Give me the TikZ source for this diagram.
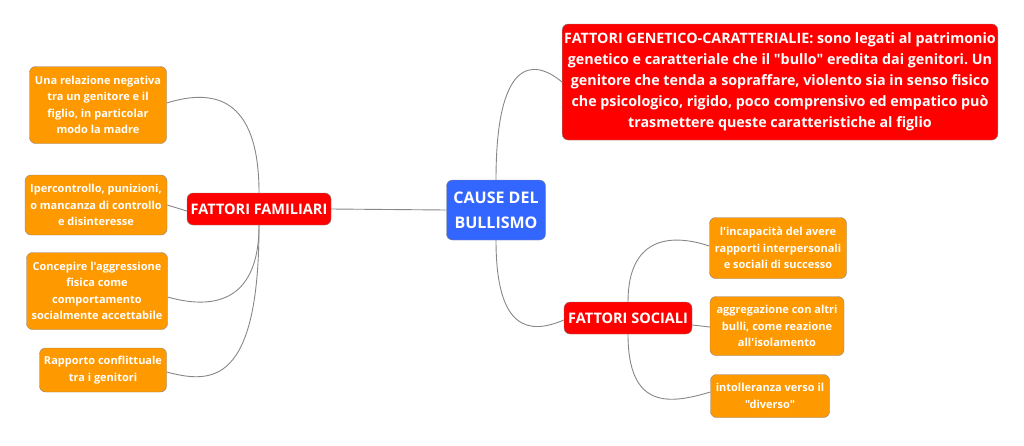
\documentclass[tikz,border=0pt]{standalone}
\usepackage{fontspec}
\setmainfont{Open Sans}[Ligatures=TeXOff]
\usepackage{xcolor}
\definecolor{rootblue}{RGB}{51,102,255}
\definecolor{topicred}{RGB}{255,0,0}
\definecolor{leaforange}{RGB}{255,153,0}
\definecolor{linegray}{RGB}{135,135,135}
\usepackage{tikz}
\usetikzlibrary{positioning}
\frenchspacing

\begin{document}
\begin{tikzpicture}[x=1pt,y=-1pt]
  \tikzstyle{topic}=[rectangle,draw=linegray,rounded corners=6pt,text=white,font=\bfseries,align=center,inner sep=2pt]
  \tikzstyle{rootbox}=[topic,fill=rootblue,minimum width=99pt,minimum height=60pt,font=\bfseries\fontsize{16}{25}\selectfont]
  \tikzstyle{mainbox}=[topic,fill=topicred,minimum height=32pt,font=\bfseries\fontsize{14.5}{16}\selectfont]
  \tikzstyle{leafbox}=[topic,fill=leaforange,font=\bfseries\fontsize{11}{16.5}\selectfont]
  \tikzstyle{link}=[draw=linegray,line width=0.9pt]
  \useasboundingbox (0,0) rectangle (1024,445);

  \node[rootbox] (root) at (496,210) {CAUSE DEL\\BULLISMO};
  \node[mainbox,minimum width=144pt] (fam) at (259,209) {FATTORI FAMILIARI};
  \node[mainbox,minimum width=128pt] (soc) at (628,318) {FATTORI SOCIALI};
  \node[topic,fill=topicred,minimum width=435pt,minimum height=116pt,font=\bfseries\fontsize{14.3}{21}\selectfont] (gen) at (780,82)
    {FATTORI GENETICO-CARATTERIALIE: sono legati al patrimonio\\genetico e caratteriale che il "bullo" eredita dai genitori. Un\\genitore che tenda a sopraffare, violento sia in senso fisico\\che psicologico, rigido, poco comprensivo ed empatico può\\trasmettere queste caratteristiche al figlio};

  \node[leafbox,minimum width=137pt,minimum height=77pt] (fam1) at (98,105) {Una relazione negativa\\tra un genitore e il\\figlio, in particolar\\modo la madre};
  \node[leafbox,minimum width=142pt,minimum height=60pt] (fam2) at (96,205) {Ipercontrollo, punizioni,\\o mancanza di controllo\\e disinteresse};
  \node[leafbox,minimum width=141pt,minimum height=77pt] (fam3) at (97,291) {Concepire l'aggressione\\fisica come\\comportamento\\socialmente accettabile};
  \node[leafbox,minimum width=127pt,minimum height=44pt] (fam4) at (103,370) {Rapporto conflittuale\\tra i genitori};

  \node[leafbox,minimum width=137pt,minimum height=61pt] (soc1) at (778,248) {l'incapacità del avere\\rapporti interpersonali\\e sociali di successo};
  \node[leafbox,minimum width=134pt,minimum height=59pt] (soc2) at (777,326) {aggregazione con altri\\bulli, come reazione\\all'isolamento};
  \node[leafbox,minimum width=119pt,minimum height=43pt] (soc3) at (770,396) {intolleranza verso il\\"diverso"};

  \draw[link] (root.west) -- (fam.east);
  \draw[link] (root.north) .. controls +(0,-120) and +(-30,-25) .. (gen.west);
  \draw[link] (root.south) .. controls +(0,90) and +(-35,15) .. ([yshift=-2pt]soc.west);

  \draw[link] (fam.north) .. controls +(0,-98) and +(45,-14) .. ([yshift=2pt]fam1.east);
  \draw[link] ([yshift=-2pt]fam.west) -- (fam2.east);
  \draw[link] (fam.south) .. controls +(0,80) and +(42,12) .. ([yshift=-6pt]fam3.east);
  \draw[link] (fam.south) .. controls +(0,160) and +(45,12) .. ([yshift=-2pt]fam4.east);

  \draw[link] (soc.north) .. controls +(0,-62) and +(-42,-14) .. ([yshift=2pt]soc1.west);
  \draw[link] ([yshift=-7pt]soc.east) -- ([yshift=-1pt]soc2.west);
  \draw[link] (soc.south) .. controls +(0,76) and +(-40,12) .. ([yshift=4pt]soc3.west);
\end{tikzpicture}
\end{document}
